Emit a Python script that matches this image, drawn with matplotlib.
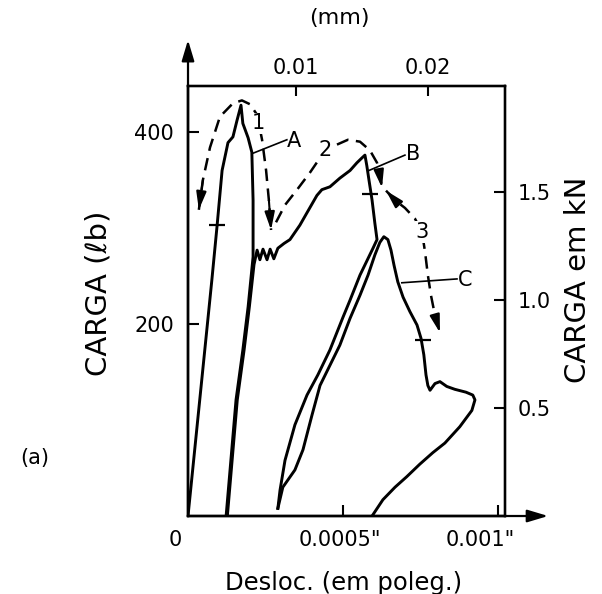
import matplotlib.pyplot as plt

# displacement in inches, load in lb
trace_a_x = [0.0, 0.000077, 0.000094, 0.00011, 0.000129, 0.000145, 0.000158, 0.000171,
             0.000177, 0.000194, 0.000206, 0.00021, 0.00021, 0.000194, 0.000177, 0.000155, 0.000123]
trace_a_y = [0, 246, 303, 360, 389, 395, 412, 428, 409, 394, 379, 329, 270, 218, 173, 121, 0]

trace_b_x = [0.000127, 0.000159, 0.000181, 0.000198, 0.000213, 0.000223, 0.000232, 0.000242,
             0.000255, 0.000265, 0.000277, 0.00029, 0.00031, 0.000329, 0.000361, 0.000384,
             0.000416, 0.000432, 0.000458, 0.00049, 0.000523, 0.000545, 0.000561, 0.000571,
             0.000577, 0.000584, 0.000594, 0.000603, 0.00061, 0.000597, 0.000555, 0.000523,
             0.0005, 0.000458, 0.000419, 0.000384, 0.000345, 0.000313, 0.000297, 0.00029]
trace_b_y = [0, 121, 173, 218, 262, 277, 267, 278, 267, 278, 268, 279, 284, 288, 303, 316,
             334, 340, 343, 352, 360, 368, 373, 376, 365, 350, 329, 305, 288, 279, 251, 225,
             207, 173, 147, 126, 95, 58, 27, 8]

trace_c_x = [0.00029, 0.000306, 0.000345, 0.000371, 0.0004, 0.000426, 0.000458, 0.00049,
             0.000523, 0.000555, 0.000581, 0.000603, 0.000619, 0.000632, 0.000645, 0.000655,
             0.000665, 0.000677, 0.000694, 0.000716, 0.000739, 0.000752, 0.000761, 0.000768,
             0.000774, 0.000781, 0.000797, 0.000813, 0.000835, 0.000861, 0.000897, 0.000919,
             0.000926, 0.000916, 0.000877, 0.000829, 0.00079, 0.000748, 0.000706, 0.000668,
             0.000629, 0.000594]
trace_c_y = [8, 30, 48, 69, 105, 136, 157, 178, 206, 230, 251, 272, 285, 291, 288, 277,
             261, 244, 228, 213, 199, 185, 168, 147, 136, 131, 138, 140, 135, 132, 129, 126,
             121, 110, 93, 76, 66, 54, 41, 30, 17, 0]

# short cross marks on the curves
mark_x = [0.000094, 0.000587, 0.000758]
mark_y = [303, 336, 183]

# dashed paths 1, 2, 3
path1_x = [0.000035, 0.000048, 0.000071, 0.000103, 0.000145, 0.000174, 0.0002, 0.000223,
           0.000239, 0.000252, 0.000261, 0.000268]
path1_y = [319, 350, 384, 416, 430, 433, 429, 418, 392, 360, 329, 298]
path2_x = [0.000284, 0.000313, 0.000352, 0.000394, 0.000432, 0.000474, 0.000516, 0.000555,
           0.000587, 0.00061, 0.000619, 0.000626]
path2_y = [306, 324, 340, 358, 376, 386, 392, 390, 381, 368, 355, 342]
path3_x = [0.000639, 0.000668, 0.0007, 0.000732, 0.000755, 0.000765, 0.000774, 0.000784,
           0.000797, 0.000813]
path3_y = [339, 329, 321, 310, 296, 275, 251, 230, 209, 191]

LB_TO_KN = 0.004448

fig = plt.figure(figsize=(6.02, 5.94), dpi=100)
ax = fig.add_axes([0.3123, 0.1313, 0.5266, 0.7239])
ax.set_xlim(0, 0.001023)
ax.set_ylim(0, 448)

lw = 2.1
ax.plot(trace_a_x, trace_a_y, color="k", lw=lw, solid_joinstyle="round")
ax.plot(trace_b_x, trace_b_y, color="k", lw=lw, solid_joinstyle="round")
ax.plot(trace_c_x, trace_c_y, color="k", lw=lw, solid_joinstyle="round")
ax.plot(mark_x, mark_y, ls="none", marker="_", ms=12, mew=1.6, color="k")

head = "-|>,head_length=0.9,head_width=0.25"


def dashed(xs, ys, head_start=False, head_end=True):
    ax.plot(xs, ys, color="k", lw=1.8, ls=(0, (5, 3)))
    ends = []
    if head_end:
        ends.append(((xs[-1], ys[-1]), (xs[-2], ys[-2])))
    if head_start:
        ends.append(((xs[0], ys[0]), (xs[1], ys[1])))
    for tip, tail in ends:
        ax.annotate("", xy=tip, xytext=tail,
                    arrowprops=dict(arrowstyle=head, color="k", lw=1.5,
                                    mutation_scale=12, shrinkA=0, shrinkB=0))


dashed(path1_x, path1_y, head_start=True)
dashed(path2_x, path2_y)
dashed(path3_x, path3_y, head_start=True)

box = dict(facecolor="white", edgecolor="none", pad=0.5)
for txt, x, y in [("1", 0.000226, 409), ("2", 0.000442, 381), ("3", 0.000755, 296)]:
    ax.text(x, y, txt, fontsize=15, ha="center", va="center", bbox=box)

# curve labels with leader lines
ax.plot([0.00021, 0.000319], [378, 392], color="k", lw=1.2)
ax.plot([0.000584, 0.0007], [360, 376], color="k", lw=1.2)
ax.plot([0.00069, 0.000868], [243, 247], color="k", lw=1.2)
ax.text(0.000342, 391, "A", fontsize=15, ha="center", va="center")
ax.text(0.000726, 377, "B", fontsize=15, ha="center", va="center")
ax.text(0.000894, 246, "C", fontsize=15, ha="center", va="center")

for s in ax.spines.values():
    s.set_linewidth(1.6)

ax.set_yticks([200, 400])
ax.tick_params(axis="y", direction="in", length=8, width=1.5, labelsize=15, pad=10)
ax.set_xticks([0.0005, 0.001])
ax.tick_params(axis="x", direction="in", length=8, width=1.5, labelbottom=False)

# x tick labels sit a little left of their ticks
xl = ax.get_xaxis_transform()
ax.text(-0.000042, -0.055, "0", transform=xl, fontsize=15, ha="center", va="center")
ax.text(0.00049, -0.055, '0.0005"', transform=xl, fontsize=15, ha="center", va="center")
ax.text(0.000942, -0.055, '0.001"', transform=xl, fontsize=15, ha="center", va="center")

# axis arrows
ap = dict(arrowstyle="-|>,head_length=0.9,head_width=0.27", color="k", lw=1.6,
          mutation_scale=14, shrinkA=0, shrinkB=0)
ax.annotate("", xy=(0, 1.107), xytext=(0, 0), xycoords="axes fraction",
            arrowprops=ap, annotation_clip=False)
ax.annotate("", xy=(1.136, 0), xytext=(0, 0), xycoords="axes fraction",
            arrowprops=ap, annotation_clip=False)

# load in kN on the right
ax2 = ax.twinx()
ax2.set_ylim(0, 448 * LB_TO_KN)
ax2.set_yticks([0.5, 1.0, 1.5])
ax2.set_yticklabels(["0.5", "1.0", "1.5"])
ax2.tick_params(axis="y", direction="in", length=8, width=1.5, labelsize=15, pad=9)
for s in ax2.spines.values():
    s.set_linewidth(1.6)

# displacement in mm on top
ax3 = ax.twiny()
ax3.set_xlim(0.00182, 0.02583)
ax3.set_xticks([0.01, 0.02])
ax3.set_xticklabels(["0.01", "0.02"])
ax3.tick_params(axis="x", direction="in", length=7, width=1.5, labelsize=15, pad=6)
for s in ax3.spines.values():
    s.set_linewidth(1.6)

fig.text(0.163, 0.507, "CARGA (ℓb)", rotation=90, fontsize=21, ha="center", va="center")
fig.text(0.960, 0.529, "CARGA em kN", rotation=90, fontsize=21, ha="center", va="center")
fig.text(0.570, 0.0185, "Desloc. (em poleg.)", fontsize=17.5, ha="center", va="center")
fig.text(0.563, 0.970, "(mm)", fontsize=16, ha="center", va="center")
fig.text(0.058, 0.229, "(a)", fontsize=15, ha="center", va="center")

fig.savefig("out.png", dpi=100)
